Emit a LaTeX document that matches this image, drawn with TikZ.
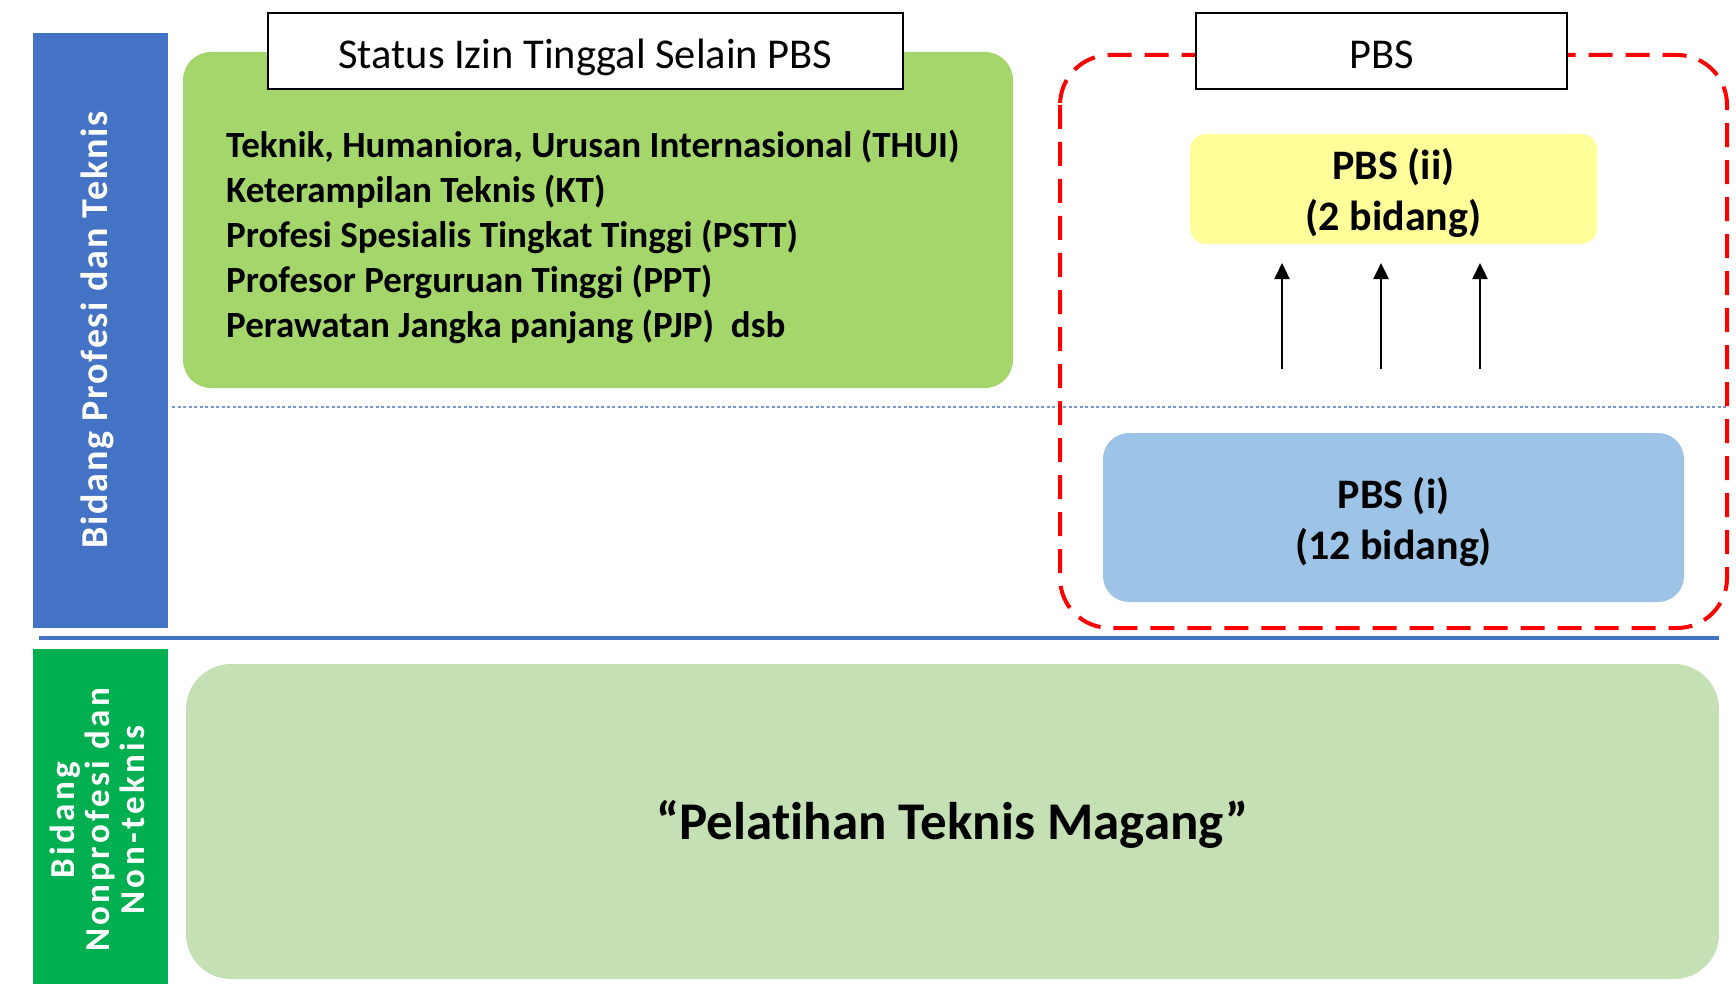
\documentclass[tikz,border=0pt]{standalone}
\usepackage{fontspec}
\setmainfont{Carlito}[Ligatures=NoCommon]
\usetikzlibrary{arrows.meta}
\definecolor{barblue}{RGB}{68,114,196}
\definecolor{bargreen}{RGB}{0,176,80}
\definecolor{boxgreen}{RGB}{165,214,108}
\definecolor{lightgreen}{RGB}{197,224,180}
\definecolor{paleyellow}{RGB}{255,255,153}
\definecolor{paleblue}{RGB}{157,195,230}
\definecolor{dotblue}{RGB}{120,150,210}
\tikzset{
  sidebar/.style={rectangle, inner sep=0pt},
  titlebox/.style={rectangle, draw=black, line width=1.5pt, fill=white, inner sep=0pt, text height=36pt, text depth=0pt, font=\fontsize{42.5}{50}\selectfont},
  softbox/.style={rectangle, inner sep=0pt, align=center, font=\bfseries\fontsize{42}{51}\selectfont},
  uparrow/.style={-{Triangle[length=16pt,width=15pt]}, line width=2.2pt, black},
}
\begin{document}
\begin{tikzpicture}[x=1pt,y=-1pt]
\useasboundingbox (0,0) rectangle (1736,984);
% side bars
\node[sidebar, fill=barblue, minimum width=135pt, minimum height=595pt] (bluebar) at (100.5,330.5) {};
\node[sidebar, fill=bargreen, minimum width=135pt, minimum height=336pt] (greenbar) at (100.5,817) {};
\node[rotate=90, text=white, font=\bfseries\addfontfeature{LetterSpace=4.6}\fontsize{38}{40}\selectfont] (bluetxt) at (97,330) {Bidang Profesi dan Teknis};
\node[rotate=90, text=white, align=center, font=\bfseries\addfontfeature{LetterSpace=9.5}\fontsize{35}{35}\selectfont] (greentxt) at (97,820) {Bidang\\Nonprofesi dan\\Non-teknis};
% separators
\coordinate (hl) at (39,638); \coordinate (hr) at (1719,638);
\draw[barblue, line width=4pt] (hl) -- (hr);
\coordinate (dl) at (172,407); \coordinate (dr) at (1727,407);
\draw[dotblue, line width=1.5pt, dash pattern=on 3pt off 2.5pt] (dl) -- (dr);
% green box
\node[rectangle, fill=boxgreen, rounded corners=28pt, minimum width=830pt, minimum height=336pt] (gbox) at (598,220) {};
\node[titlebox, minimum width=635pt, minimum height=76pt] (gtitle) at (585.5,51) {Status Izin Tinggal Selain PBS};
\node[anchor=west, align=left, inner sep=0pt, font=\bfseries\fontsize{37}{45}\selectfont] (list) at (226,237)
 {Teknik, Humaniora, Urusan Internasional (THUI)\\
  Keterampilan Teknis (KT)\\
  Profesi Spesialis Tingkat Tinggi (PSTT)\\
  Profesor Perguruan Tinggi (PPT)\\
  Perawatan Jangka panjang (PJP)\ \ dsb};
% PBS region
\coordinate (rtl) at (1060,55); \coordinate (rbr) at (1727,628);
\draw[red, line width=4pt, dash pattern=on 24pt off 13pt, rounded corners=50pt] (rtl) rectangle (rbr);
\node[titlebox, minimum width=371pt, minimum height=76pt] (ptitle) at (1381.5,51) {PBS};
\node[rectangle, fill=paleyellow, rounded corners=16pt, minimum width=407pt, minimum height=110pt] (pbs2) at (1393.5,189) {};
\node[softbox] (pbs2t) at ([yshift=-4pt]pbs2.center) {PBS (ii)\\(2 bidang)};
\node[rectangle, fill=paleblue, rounded corners=26pt, minimum width=581pt, minimum height=169pt] (pbs1) at (1393.5,517.5) {};
\node[softbox] (pbs1t) at ([yshift=-4pt]pbs1.center) {PBS (i)\\(12 bidang)};
\foreach \i/\x in {1/1282,2/1381,3/1480}{
  \coordinate (a\i s) at (\x,369);
  \coordinate (a\i e) at (\x,263);
  \draw[uparrow] (a\i s) -- (a\i e);
}
% bottom box
\node[rectangle, fill=lightgreen, rounded corners=45pt, minimum width=1533pt, minimum height=315pt] (magang) at (952.5,821.5) {};
\node[font=\bfseries\fontsize{53}{60}\selectfont] (magangt) at ([yshift=-3pt]magang.center) {“Pelatihan Teknis Magang”};
\end{tikzpicture}
\end{document}
